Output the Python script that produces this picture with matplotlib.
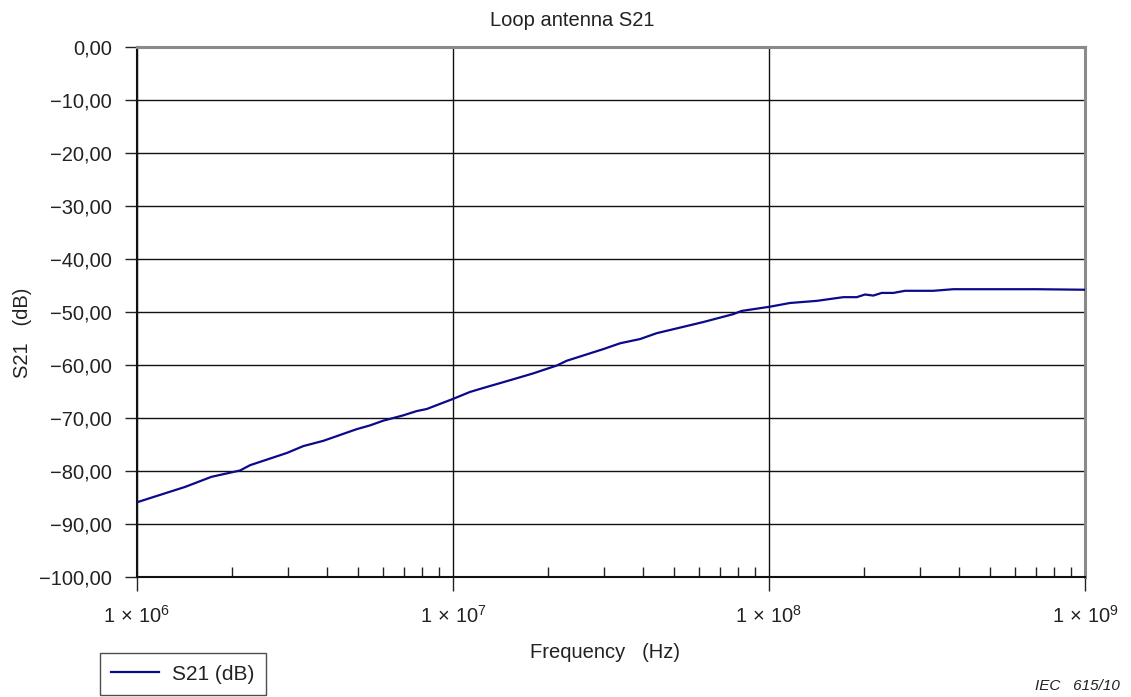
import math
import matplotlib
matplotlib.use("Agg")
import matplotlib.pyplot as plt
from matplotlib.ticker import LogLocator, FixedLocator, FuncFormatter, NullFormatter

plt.rcParams['font.family'] = ['Liberation Sans', 'DejaVu Sans']
plt.rcParams['mathtext.fontset'] = 'custom'
plt.rcParams['mathtext.rm'] = 'Liberation Sans'
plt.rcParams['mathtext.it'] = 'Liberation Sans:italic'

# Data (frequency in MHz, S21 in dB)
freq_mhz = [1.0, 1.42, 1.72, 2.12, 2.28, 2.98, 3.36, 3.89, 4.96, 5.46, 6.02,
            6.96, 7.67, 8.26, 10.0, 11.3, 12.2, 15.5, 17.9, 21.3, 22.9, 29.9,
            33.8, 39.1, 44.1, 56.2, 61.9, 77.1, 81.9, 100.7, 116.5, 141.6,
            171.9, 189.5, 201.3, 213.8, 227.3, 247.5, 269.4, 331.1, 383.0,
            703.5, 1000.0]
s21_db = [-85.9, -83.0, -81.1, -79.9, -78.9, -76.6, -75.3, -74.3, -72.1, -71.4,
          -70.5, -69.5, -68.7, -68.3, -66.4, -65.1, -64.5, -62.7, -61.6, -60.1,
          -59.2, -57.0, -55.9, -55.1, -54.0, -52.5, -51.9, -50.4, -49.8, -49.0,
          -48.3, -47.9, -47.2, -47.2, -46.7, -46.9, -46.4, -46.4, -46.0, -46.0,
          -45.7, -45.7, -45.8]
y_ticks = [0, -10, -20, -30, -40, -50, -60, -70, -80, -90, -100]

title_text = "Loop antenna S21"
x_label = "Frequency   (Hz)"
y_label = "S21   (dB)"
legend_label = "S21 (dB)"
credit = "IEC   615/10"

W, H = 1131, 697
fig = plt.figure(figsize=(W / 100, H / 100), dpi=100)
L, R, T, B = 137, 1085, 47, 577
ax = fig.add_axes([L / W, 1 - B / H, (R - L) / W, (B - T) / H])

freq_hz = [f * 1e6 for f in freq_mhz]
line, = ax.plot(freq_hz, s21_db, color='#0a0a8a', lw=1.6, label=legend_label,
                solid_joinstyle='round', zorder=3)

ax.set_xscale('log')
ax.set_xlim(1e6, 1e9)
ax.set_ylim(-100, 0)

ax.xaxis.set_major_locator(FixedLocator([1e6, 1e7, 1e8, 1e9]))
ax.xaxis.set_minor_locator(LogLocator(base=10, subs=range(2, 10), numticks=20))
ax.xaxis.set_minor_formatter(NullFormatter())


def xfmt(v, pos):
    e = int(round(math.log10(v)))
    return r"$1\,\times\,10^{%d}$" % e


ax.xaxis.set_major_formatter(FuncFormatter(xfmt))
ax.set_yticks(y_ticks)
ax.set_yticklabels([("\u2212" if v < 0 else "") + f"{abs(v)},00" for v in y_ticks])

ax.tick_params(axis='y', which='major', direction='out', length=9, width=1,
               labelsize=14.5, pad=9, colors='#222222', labelcolor='#222222')
ax.tick_params(axis='x', which='major', direction='out', length=10, width=1,
               labelsize=14.5, pad=10, colors='#222222', labelcolor='#222222')
ax.tick_params(axis='x', which='minor', direction='in', length=7, width=1,
               colors='#222222')

ax.grid(True, which='major', color='#111111', lw=1.0)
ax.set_axisbelow(True)

for side in ['left', 'bottom']:
    ax.spines[side].set_color('#111111')
    ax.spines[side].set_linewidth(1.5)
for side in ['top', 'right']:
    ax.spines[side].set_color('#8a8a8a')
    ax.spines[side].set_linewidth(2.2)

fig.text(572 / W, 1 - 20 / H, title_text, ha='center', va='center',
         fontsize=14.5, color='#222222')
fig.text(605 / W, 1 - 652 / H, x_label, ha='center', va='center',
         fontsize=14.5, color='#222222')
fig.text(23 / W, 1 - 333 / H, y_label, ha='center', va='center',
         rotation=90, fontsize=14.5, color='#222222')
fig.text(1120 / W, 1 - 686 / H, credit, ha='right', va='center',
         fontsize=11, style='italic', color='#222222')

leg = fig.legend(handles=[line], labels=[legend_label], loc='lower left',
                 bbox_to_anchor=(100 / W, 1 - 695 / H), fontsize=15,
                 frameon=True, fancybox=False, handlelength=2.3,
                 borderpad=0.55, handletextpad=0.6, borderaxespad=0)
leg.get_frame().set_edgecolor('#222222')
leg.get_frame().set_linewidth(1.0)
for t in leg.get_texts():
    t.set_color('#222222')

fig.savefig("out.png", dpi=100)
